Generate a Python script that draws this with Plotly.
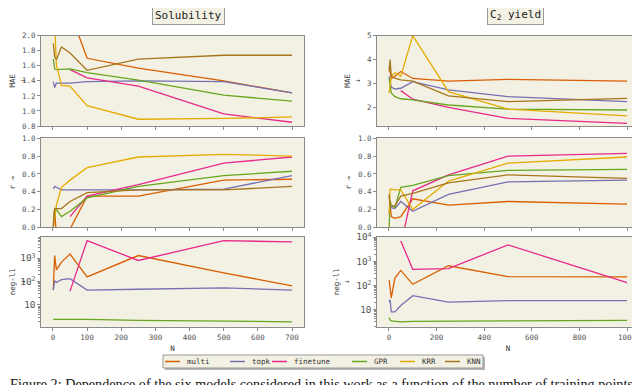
import plotly.graph_objects as go
from plotly.subplots import make_subplots

# training set sizes
n_sol = [1, 5, 10, 25, 50, 100, 250, 500, 700]
n_c2 = [1, 5, 10, 25, 50, 100, 250, 500, 1000]
n_sol_ft = [50, 100, 250, 500, 700]
n_c2_ft = [50, 100, 250, 500, 1000]

# Solubility - MAE
sol_mae_multi = [2.5, 2.9, 2.6, 2.45, 2.32, 1.70, 1.57, 1.40, 1.24]
sol_mae_topk = [1.39, 1.31, 1.37, 1.37, 1.37, 1.39, 1.40, 1.39, 1.24]
sol_mae_finetune = [1.55, 1.44, 1.33, 0.96, 0.85]
sol_mae_gpr = [1.69, 1.56, 1.55, 1.55, 1.56, 1.51, 1.41, 1.21, 1.13]
sol_mae_krr = [2.6, 2.05, 1.62, 1.34, 1.33, 1.07, 0.89, 0.90, 0.92]
sol_mae_knn = [1.9, 1.72, 1.68, 1.85, 1.77, 1.54, 1.69, 1.74, 1.74]

# Solubility - r
sol_r_multi = [0.05, 0.2, -0.1, -0.2, -0.02, 0.35, 0.35, 0.53, 0.54]
sol_r_topk = [0.43, 0.46, 0.45, 0.42, 0.42, 0.42, 0.42, 0.43, 0.58]
sol_r_finetune = [0.12, 0.35, 0.48, 0.72, 0.79]
sol_r_gpr = [0.01, 0.21, 0.2, 0.12, 0.18, 0.33, 0.46, 0.58, 0.63]
sol_r_krr = [0.0, 0.12, 0.25, 0.45, 0.53, 0.67, 0.79, 0.82, 0.80]
sol_r_knn = [0.0, 0.21, 0.21, 0.21, 0.29, 0.39, 0.42, 0.42, 0.46]

# Solubility - neg-ll
sol_nll_multi = [43, 1300, 320, 680, 1500, 158, 1300, 234, 66]
sol_nll_topk = [43, 110, 91, 120, 134, 43, 47, 54, 43]
sol_nll_finetune = [39, 5600, 800, 5600, 5000]
sol_nll_gpr = [2.4, 2.4, 2.4, 2.4, 2.4, 2.4, 2.2, 2.0, 1.9]

# C2 yield - MAE
c2_mae_multi = [3.72, 3.45, 3.2, 3.3, 3.5, 3.21, 3.10, 3.17, 3.10]
c2_mae_topk = [3.3, 3.0, 2.85, 2.77, 2.8, 3.08, 2.73, 2.45, 2.24]
c2_mae_finetune = [2.70, 2.34, 2.0, 1.54, 1.33]
c2_mae_gpr = [3.2, 2.9, 2.6, 2.45, 2.36, 2.31, 2.1, 1.93, 1.89]
c2_mae_krr = [2.6, 2.9, 3.3, 3.45, 3.3, 5.0, 2.66, 1.93, 1.64]
c2_mae_knn = [3.5, 4.0, 3.3, 3.22, 3.15, 3.1, 2.48, 2.24, 2.38]

# C2 yield - r
c2_r_multi = [0.36, 0.25, 0.12, 0.1, 0.12, 0.32, 0.25, 0.29, 0.26]
c2_r_topk = [0.15, 0.25, 0.22, 0.21, 0.29, 0.18, 0.37, 0.51, 0.53]
c2_r_finetune = [-0.2, 0.41, 0.59, 0.80, 0.83]
c2_r_gpr = [0.0, 0.3, 0.25, 0.22, 0.45, 0.47, 0.58, 0.64, 0.65]
c2_r_krr = [0.15, 0.43, 0.43, 0.42, 0.42, 0.2, 0.52, 0.72, 0.79]
c2_r_knn = [0.37, 0.24, 0.24, 0.24, 0.35, 0.38, 0.5, 0.59, 0.55]

# C2 yield - neg-ll
c2_nll_multi = [162, 70, 30, 200, 415, 110, 650, 230, 222]
c2_nll_topk = [20, 25, 7.8, 7.8, 14.5, 37, 20, 23, 23]
c2_nll_finetune = [7000, 460, 490, 4800, 130]
c2_nll_gpr = [4.6, 3.6, 3.3, 3.1, 3.0, 3.2, 3.2, 3.3, 3.5]

models = ['multi', 'topk', 'finetune', 'GPR', 'KRR', 'KNN']
colors = ['#d95f02', '#7570b3', '#e7298a', '#66a61e', '#e6ab02', '#a6761d']

bg = '#f3f1e3'
mono = 'DejaVu Sans Mono'
W, H = 640, 385
OFF = 8  # page body margin shifts the figure by this many pixels

def px(x):
  return (x - OFF) / W

def py(y):
  return 1 - (y - OFF) / H

fig = make_subplots(rows=3, cols=2)

sol = {
  1: [sol_mae_multi, sol_mae_topk, sol_mae_finetune, sol_mae_gpr, sol_mae_krr, sol_mae_knn],
  2: [sol_r_multi, sol_r_topk, sol_r_finetune, sol_r_gpr, sol_r_krr, sol_r_knn],
  3: [sol_nll_multi, sol_nll_topk, sol_nll_finetune, sol_nll_gpr, None, None],
}
c2 = {
  1: [c2_mae_multi, c2_mae_topk, c2_mae_finetune, c2_mae_gpr, c2_mae_krr, c2_mae_knn],
  2: [c2_r_multi, c2_r_topk, c2_r_finetune, c2_r_gpr, c2_r_krr, c2_r_knn],
  3: [c2_nll_multi, c2_nll_topk, c2_nll_finetune, c2_nll_gpr, None, None],
}

for col, (data, n, n_ft) in enumerate([(sol, n_sol, n_sol_ft), (c2, n_c2, n_c2_ft)], start=1):
  for row in [1, 2, 3]:
    for i, m in enumerate(models):
      ys = data[row][i]
      if ys is None:
        continue
      xs = n_ft if m == 'finetune' else n
      fig.add_trace(go.Scatter(x=xs, y=ys, mode='lines', name=m,
                               line=dict(color=colors[i], width=1.3),
                               showlegend=False),
                    row=row, col=col)

# domains (pixels)
xdom = {1: [px(41), px(304)], 2: [px(377), px(639)]}
ydom = {1: [py(126), py(35.7)], 2: [py(227.3), py(138.3)], 3: [py(326.7), py(236.7)]}

tickfont = dict(family=mono, size=7.5, color='#555')
axis_style = dict(showgrid=False, zeroline=False, showline=True, mirror=True,
                  linecolor='#8a8a8a', linewidth=1, ticks='outside', ticklen=3,
                  tickcolor='#8a8a8a', tickfont=tickfont, automargin=False)
title_font = dict(family=mono, size=7.5, color='#333')

for row in [1, 2, 3]:
  for col in [1, 2]:
    fig.update_xaxes(domain=xdom[col], row=row, col=col, **axis_style)
    fig.update_yaxes(domain=ydom[row], row=row, col=col, **axis_style)
    if col == 1:
      fig.update_xaxes(range=[-35, 735], tickvals=list(range(0, 701, 100)), row=row, col=col)
    else:
      fig.update_xaxes(range=[-50, 1050], tickvals=list(range(0, 1001, 200)), row=row, col=col)
    if row < 3:
      fig.update_xaxes(showticklabels=False, row=row, col=col)
    else:
      fig.update_xaxes(title=dict(text='N', font=title_font, standoff=5), row=row, col=col)

fig.update_yaxes(range=[0.8, 2.0], dtick=0.2, tickformat='.1f', row=1, col=1)
fig.update_yaxes(range=[1.22, 5.0], tickvals=[2, 3, 4, 5], row=1, col=2)
fig.update_yaxes(range=[0, 1.0], dtick=0.2, tickformat='.1f', row=2, col=1)
fig.update_yaxes(range=[0, 1.0], dtick=0.2, tickformat='.1f', row=2, col=2)
fig.update_yaxes(type='log', range=[0.07, 3.92], dtick=1, exponentformat='power',
                 minor=dict(ticks='outside', ticklen=2, tickcolor='#8a8a8a'), row=3, col=1)
fig.update_yaxes(type='log', range=[0.28, 4.02], dtick=1, exponentformat='power',
                 minor=dict(ticks='outside', ticklen=2, tickcolor='#8a8a8a'), row=3, col=2)

for col in [1, 2]:
  fig.update_yaxes(title=dict(text='MAE<br>↓', font=title_font, standoff=5), row=1, col=col)
  fig.update_yaxes(title=dict(text='r →', font=title_font, standoff=5), row=2, col=col)
  fig.update_yaxes(title=dict(text='neg-ll<br>↓', font=title_font, standoff=5), row=3, col=col)

# panel titles
for txt, cx in [('Solubility', 188), ('C<sub>2</sub> yield', 515)]:
  fig.add_annotation(text=txt, x=px(cx), y=py(15), xref='paper', yref='paper',
                     xanchor='center', yanchor='middle',
                     showarrow=False, font=dict(family=mono, size=11, color='#222'),
                     bgcolor=bg, bordercolor='#999', borderwidth=1, borderpad=2)

# hand-built legend box to match the compact matplotlib legend
fig.add_shape(type='rect', xref='paper', yref='paper',
              x0=px(165), x1=px(485), y0=py(370), y1=py(357),
              fillcolor='#b5b5b5', line=dict(width=0), layer='above')
fig.add_shape(type='rect', xref='paper', yref='paper',
              x0=px(163), x1=px(483), y0=py(368), y1=py(355),
              fillcolor=bg, line=dict(color='#999', width=1), layer='above')
entry_x = [165, 230, 272, 352, 400, 445]
for m, c, ex in zip(models, colors, entry_x):
  fig.add_shape(type='line', xref='paper', yref='paper',
                x0=px(ex), x1=px(ex + 15), y0=py(361.5), y1=py(361.5),
                line=dict(color=c, width=1.5), layer='above')
  fig.add_annotation(text=m, x=px(ex + 20), y=py(361.5), xref='paper', yref='paper',
                     xanchor='left', yanchor='middle', showarrow=False,
                     font=dict(family=mono, size=7.5, color='#333'))

# caption cut off at the bottom of the image
fig.add_annotation(text='Figure 2: Dependence of the six models considered in this work as a function of the number of training points N. f',
                   x=px(8), y=py(374), xref='paper', yref='paper', xanchor='left', yanchor='top',
                   showarrow=False, font=dict(family='Liberation Serif', size=14.2, color='#111'))

fig.update_layout(
  width=W, height=H,
  margin=dict(l=0, r=0, t=0, b=0),
  paper_bgcolor='white',
  plot_bgcolor=bg,
  showlegend=False,
)

fig.write_html("out.html")
